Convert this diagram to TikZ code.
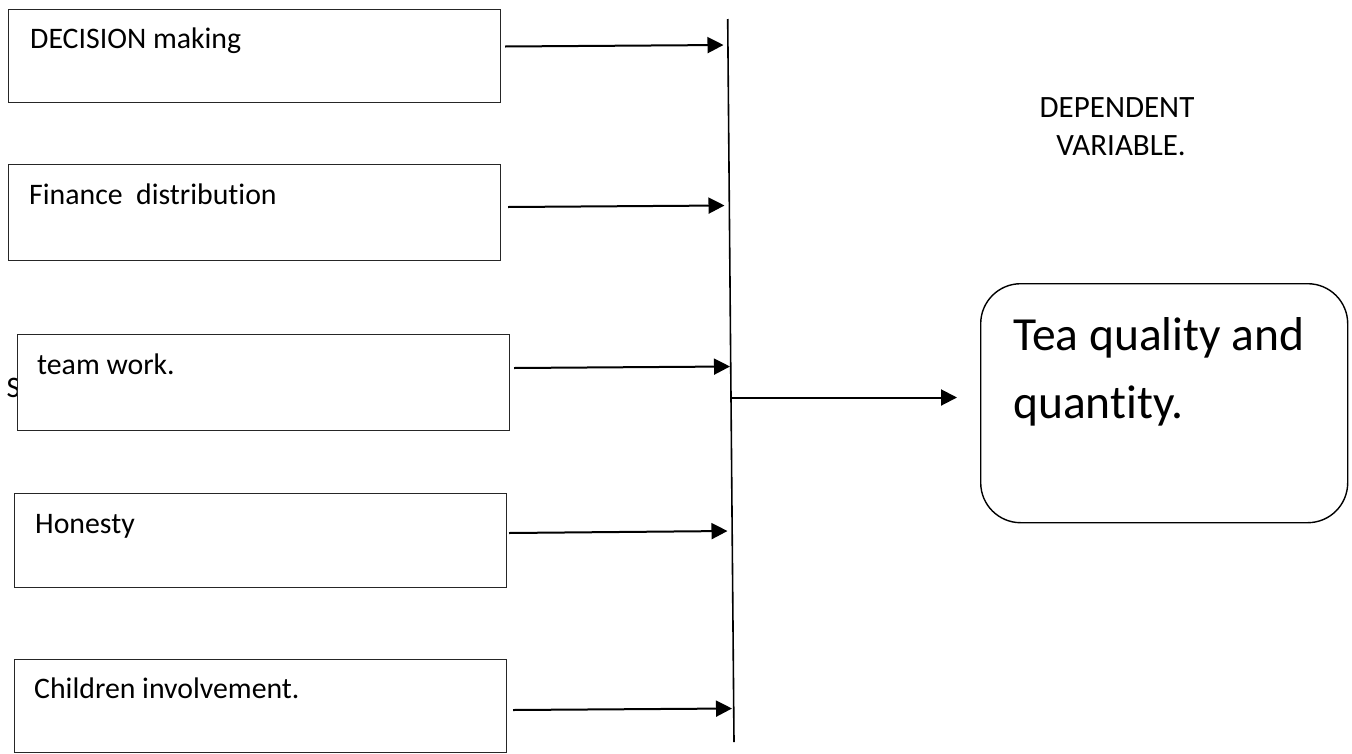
\documentclass[tikz,border=0pt]{standalone}
\usepackage{fontspec}
\setmainfont{Carlito}[Ligatures=NoCommon]
\usetikzlibrary{arrows.meta}
\begin{document}
\begin{tikzpicture}[x=1pt,y=-1pt,
  varbox/.style={draw=black!85,line width=1.4pt,fill=white,anchor=north west,inner sep=0pt,minimum width=#1},
  varbox/.default={491pt},
  vartext/.style={anchor=base west,inner sep=0pt,font=\fontsize{29.8}{35}\selectfont},
  conn/.style={line width=2pt,-{Triangle[length=16pt,width=16pt]}},
  txt/.style={inner sep=0pt,font=\fontsize{31}{38}\selectfont}]
\useasboundingbox (0,0) rectangle (1352,753);
% partly hidden letter
\node[vartext] (s) at (6.5,397.6) {S};
% boxes
\node[varbox={492pt},minimum height=93pt] (b1) at (8,9) {};
\node[varbox={492pt},minimum height=96pt] (b2) at (8,164) {};
\node[varbox={492pt},minimum height=96pt] (b3) at (16.5,333.5) {};
\node[varbox={492pt},minimum height=94pt] (b4) at (14,493) {};
\node[varbox={492pt},minimum height=93pt] (b5) at (14,659) {};
% texts
\node[vartext] (t1) at (30,48) {DECISION making};
\node[vartext] (t2) at (29,204) {Finance\ \ distribution};
\node[vartext] (t3) at (37,374) {team work.};
\node[vartext] (t4) at (35,533) {Honesty};
\node[vartext] (t5) at (34,698) {Children involvement.};
% vertical bar
\coordinate (vt) at (727.7,19);
\coordinate (vb) at (734,742);
\draw[line width=1.6pt] (vt) -- (vb);
% arrow ends
\coordinate (s1) at (505,46.5);   \coordinate (e1) at (723.5,45);
\coordinate (s2) at (508,207);    \coordinate (e2) at (724.5,205.5);
\coordinate (s3) at (514,368);    \coordinate (e3) at (730,366.5);
\coordinate (s4) at (509,533);    \coordinate (e4) at (727.5,531);
\coordinate (s5) at (513,710);    \coordinate (e5) at (732,708.5);
\draw[conn] (s1) -- (e1);
\draw[conn] (s2) -- (e2);
\draw[conn] (s3) -- (e3);
\draw[conn] (s4) -- (e4);
\draw[conn] (s5) -- (e5);
% main output
\node[draw=black,line width=1.4pt,rounded corners=40pt,anchor=north west,inner sep=0pt,
      minimum width=367pt,minimum height=239pt] (tea) at (980,283) {};
\coordinate (m0) at (731,397.5);
\coordinate (m1) at (957,397.5);
\draw[conn] (m0) -- (m1);
\node[anchor=base west,inner sep=0pt,font=\fontsize{47.5}{68}\selectfont] (tq1) at (1013,350) {Tea quality and};
\node[anchor=base west,inner sep=0pt,font=\fontsize{47.5}{68}\selectfont] (tq2) at (1013,418) {quantity.};
% dependent variable label
\node[txt,anchor=base] (d1) at (1117,117) {DEPENDENT};
\node[txt,anchor=base] (d2) at (1121,155) {VARIABLE.};
\end{tikzpicture}
\end{document}
